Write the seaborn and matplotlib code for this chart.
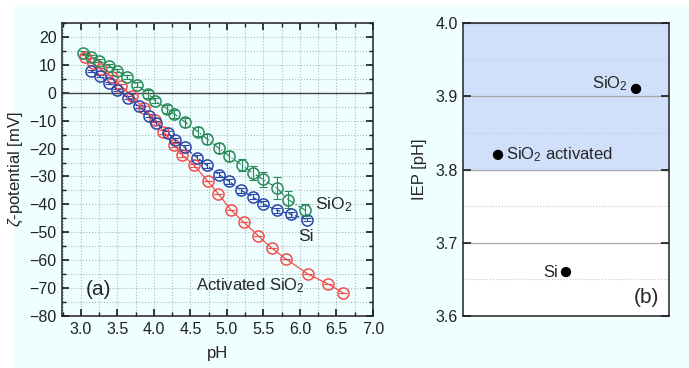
import matplotlib
matplotlib.use("Agg")
import matplotlib.pyplot as plt
import seaborn as sns
from matplotlib.patches import Rectangle
from matplotlib.ticker import MultipleLocator

# zeta potential vs pH (panel a)
ph_sio2 = [3.03, 3.14, 3.25, 3.38, 3.50, 3.63, 3.77, 3.92, 4.02, 4.18, 4.28,
           4.43, 4.60, 4.73, 4.89, 5.03, 5.20, 5.35, 5.49, 5.68, 5.84, 6.07]
zeta_sio2 = [14.3, 12.9, 11.5, 9.7, 7.9, 5.5, 2.9, -0.4, -2.8, -5.8, -7.6,
             -10.6, -13.9, -16.6, -19.9, -22.6, -25.9, -28.7, -31.0, -34.1, -38.3, -42.1]
err_sio2 = [0.5, 0.5, 0.5, 0.6, 0.6, 0.7, 0.8, 1.3, 1.0, 1.3, 1.3,
            1.5, 1.6, 1.7, 1.8, 1.8, 2.2, 2.6, 2.6, 3.8, 3.0, 2.2]

ph_si = [3.14, 3.26, 3.38, 3.50, 3.64, 3.79, 3.93, 4.03, 4.19, 4.29, 4.42,
         4.59, 4.72, 4.89, 5.03, 5.19, 5.35, 5.49, 5.68, 5.87, 6.10]
zeta_si = [7.8, 5.9, 3.6, 1.1, -1.8, -4.9, -8.2, -10.8, -14.4, -16.9, -19.6,
           -23.2, -25.9, -29.3, -31.8, -34.9, -37.3, -39.8, -42.1, -43.5, -45.5]
err_si = [0.4, 0.4, 0.4, 0.4, 0.5, 0.5, 0.6, 0.6, 0.8, 0.8, 0.8,
          0.9, 0.9, 0.9, 0.9, 0.9, 0.9, 0.9, 0.9, 0.9, 0.6]

ph_act = [3.06, 3.16, 3.28, 3.42, 3.55, 3.70, 3.86, 4.02, 4.13, 4.28, 4.39,
          4.55, 4.74, 4.88, 5.05, 5.23, 5.43, 5.61, 5.81, 6.11, 6.39, 6.59]
zeta_act = [12.9, 10.5, 8.4, 5.6, 2.4, -1.2, -5.6, -9.7, -14.0, -18.8, -22.3,
            -26.0, -31.8, -36.2, -41.9, -46.4, -51.3, -55.6, -59.6, -65.0, -68.6, -71.7]
err_act = [0.5, 0.6, 0.6, 0.7, 0.7, 0.7, 0.8, 0.8, 0.8, 0.7, 0.6,
           0.5, 0.0, 0.0, 0.0, 0.0, 0.0, 0.0, 0.0, 0.0, 0.0, 0.0]

# isoelectric points (panel b)
iep_labels = ["SiO$_2$ activated", "Si", "SiO$_2$"]
iep_pos = [0.17, 0.50, 0.84]
iep_values = [3.82, 3.66, 3.91]

sns.set_theme(style="ticks")
plt.rcParams["font.family"] = ["Liberation Sans", "DejaVu Sans"]
plt.rcParams["mathtext.fontset"] = "custom"
plt.rcParams["mathtext.rm"] = "Liberation Sans"
plt.rcParams["mathtext.it"] = "Liberation Sans:italic"
plt.rcParams["mathtext.default"] = "regular"

bg = "#effefe"
fig = plt.figure(figsize=(6.89, 3.68), dpi=100, facecolor="white")
fig.patches.append(Rectangle((13 / 689, 0), 1, 1 - 5 / 368, transform=fig.transFigure,
                             facecolor=bg, edgecolor="none", zorder=-10))

ax = fig.add_axes([62 / 689, 1 - 316 / 368, 311 / 689, 293 / 368])
ax2 = fig.add_axes([463 / 689, 1 - 316 / 368, 206 / 689, 293 / 368])

ax.set_facecolor(bg)
c_green, c_blue, c_red = "#2a8a5a", "#2a46a8", "#f24e4e"
series = [
    (ph_act, zeta_act, err_act, c_red, "-"),
    (ph_si, zeta_si, err_si, c_blue, "--"),
    (ph_sio2, zeta_sio2, err_sio2, c_green, "-."),
]
for xs, ys, es, col, ls in series:
    ax.errorbar(xs, ys, yerr=es, fmt="none", ecolor=col, elinewidth=0.8,
                capsize=3, capthick=0.8, zorder=3)
    sns.lineplot(x=xs, y=ys, ax=ax, sort=False, color=col, linestyle=ls, lw=0.9,
                 marker="o", markersize=8, markerfacecolor="none",
                 markeredgecolor=col, markeredgewidth=1.1, zorder=4)

ax.axhline(0, color="#444444", lw=1.0, zorder=2)
ax.set_xlim(2.74, 7.0)
ax.set_ylim(-80, 25)
ax.xaxis.set_major_locator(MultipleLocator(0.5))
ax.xaxis.set_minor_locator(MultipleLocator(0.25))
ax.yaxis.set_major_locator(MultipleLocator(10))
ax.yaxis.set_minor_locator(MultipleLocator(5))
ax.xaxis.set_major_formatter(matplotlib.ticker.FormatStrFormatter("%.1f"))
ax.grid(which="both", color="#b0b8b8", ls=":", lw=0.8)
ax.tick_params(which="both", direction="in", top=True, right=True, labelsize=11.5,
               colors="#222222", pad=4)
ax.tick_params(which="major", length=5)
ax.tick_params(which="minor", length=3)
ax.set_xticks([3.0, 3.5, 4.0, 4.5, 5.0, 5.5, 6.0, 6.5, 7.0])
ax.set_xlabel("pH", fontsize=12, labelpad=7)
ax.set_ylabel(r"$\mathit{\zeta}$-potential [mV]", fontsize=12, labelpad=3)
for s in ax.spines.values():
    s.set_linewidth(1.1)
    s.set_color("#222222")

ax.text(6.2, -40, "SiO$_2$", fontsize=12.5, va="center", ha="left")
ax.text(5.97, -51.5, "Si", fontsize=12.5, va="center", ha="left")
ax.text(4.57, -69, "Activated SiO$_2$", fontsize=12, va="center", ha="left")
ax.text(3.06, -70.6, "(a)", fontsize=15, va="center", ha="left")

# panel b
ax2.set_facecolor("white")
ax2.axhspan(3.8, 4.0, color="#d1e0fa", zorder=0)
sns.scatterplot(x=iep_pos, y=iep_values, ax=ax2, color="black", s=55,
                edgecolor="none", zorder=4)
ax2.set_xlim(0, 1)
ax2.set_ylim(3.6, 4.0)
ax2.set_xticks([])
ax2.yaxis.set_major_locator(MultipleLocator(0.1))
ax2.yaxis.set_minor_locator(MultipleLocator(0.05))
ax2.grid(which="major", axis="y", color="#a8a8a8", lw=0.9)
ax2.grid(which="minor", axis="y", color="#c8c8c8", ls=":", lw=0.8)
ax2.tick_params(which="both", direction="in", right=True, labelsize=11.5,
                colors="#222222")
ax2.tick_params(which="minor", length=0)
ax2.set_ylabel("IEP [pH]", fontsize=12, labelpad=6)
for s in ax2.spines.values():
    s.set_linewidth(1.1)
    s.set_color("#222222")

ax2.text(iep_pos[0] + 0.04, iep_values[0], iep_labels[0], fontsize=12, va="center", ha="left")
ax2.text(iep_pos[1] - 0.04, iep_values[1], iep_labels[1], fontsize=12, va="center", ha="right")
ax2.text(iep_pos[2] - 0.04, iep_values[2] + 0.007, iep_labels[2], fontsize=12, va="center", ha="right")
ax2.text(0.95, 3.625, "(b)", fontsize=15, ha="right", va="center")

fig.savefig("out.png", dpi=100, facecolor=fig.get_facecolor())
